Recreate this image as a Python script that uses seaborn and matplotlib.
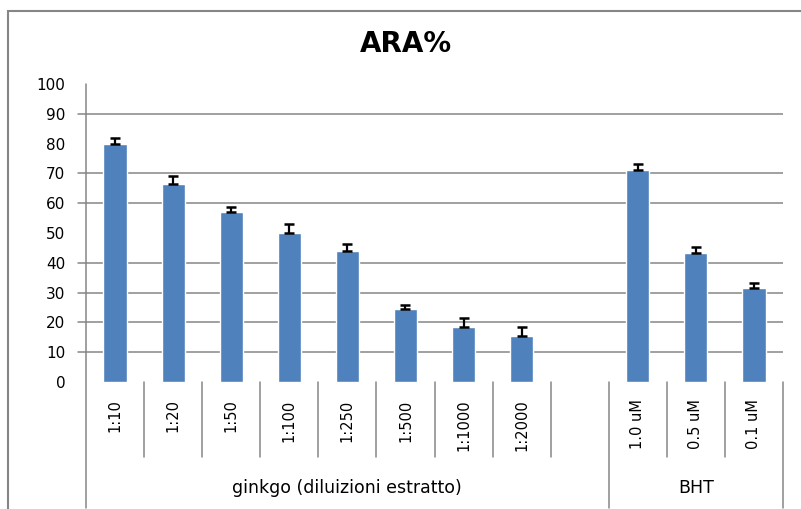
import matplotlib
matplotlib.use("Agg")
import matplotlib.pyplot as plt
import matplotlib.transforms as mtransforms
from matplotlib.patches import Rectangle
import seaborn as sns
import pandas as pd
import numpy as np

# ---- data ----
ginkgo_labels = ["1:10", "1:20", "1:50", "1:100", "1:250", "1:500", "1:1000", "1:2000"]
bht_labels = ["1.0 uM", "0.5 uM", "0.1 uM"]
ginkgo_values = [80.0, 66.4, 57.0, 50.0, 44.0, 24.5, 18.5, 15.4]
bht_values = [71.1, 43.3, 31.5]
ginkgo_errors = [1.8, 2.8, 1.8, 3.1, 2.4, 1.5, 2.9, 3.0]
bht_errors = [1.9, 2.1, 1.6]
group_names = ["ginkgo (diluizioni estratto)", "BHT"]
title = "ARA%"
y_ticks = [0, 10, 20, 30, 40, 50, 60, 70, 80, 90, 100]
grid_values = [10, 20, 30, 40, 60, 70, 90]

blank = " "
order = ginkgo_labels + [blank] + bht_labels
df = pd.DataFrame({
    "cat": ginkgo_labels + bht_labels,
    "val": ginkgo_values + bht_values,
    "err": ginkgo_errors + bht_errors,
})

sns.set_theme(style="white")
plt.rcParams["font.family"] = ["DejaVu Sans"]
plt.rcParams["text.color"] = "black"
plt.rcParams["xtick.color"] = "black"
plt.rcParams["ytick.color"] = "black"
plt.rcParams["xtick.labelcolor"] = "black"
plt.rcParams["ytick.labelcolor"] = "black"

W, H = 801, 509
fig = plt.figure(figsize=(W / 100, H / 100), dpi=100)
ax_left, ax_right, ax_top, ax_bot = 86, 783, 84, 382
ax = fig.add_axes([ax_left / W, 1 - ax_bot / H, (ax_right - ax_left) / W, (ax_bot - ax_top) / H])

bar_color = "#4F81BD"
grid_color = "#868686"

sns.barplot(data=df, x="cat", y="val", order=order, color=bar_color,
            width=0.4, errorbar=None, saturation=1, ax=ax, zorder=2)

xpos = [order.index(c) for c in df["cat"]]
ax.errorbar(xpos, df["val"], yerr=[np.zeros(len(df)), df["err"]], fmt="none",
            ecolor="black", elinewidth=1.6, capsize=3.6, capthick=1.8, zorder=5)

ax.set_xlim(-0.5, len(order) - 0.5)
ax.set_ylim(0, 100)
ax.set_yticks(y_ticks)
ax.tick_params(axis="y", which="major", length=0, pad=15, labelsize=11)
ax.grid(False)

# horizontal gridlines and their tick marks on the value axis
tick_len = 8 / (ax_right - ax_left)
for g in grid_values:
    ax.axhline(g, color=grid_color, linewidth=1.1, zorder=1)
    ax.plot([-tick_len, 0], [g, g], transform=mtransforms.blended_transform_factory(ax.transAxes, ax.transData),
            color=grid_color, lw=1.1, clip_on=False)

ax.tick_params(axis="x", length=0, pad=12.5)
ax.set_xticks(range(len(order)))
ax.set_xticklabels(order, rotation=90, fontsize=10.5, va="top", ha="center")
ax.set_xlabel("")
ax.set_ylabel("")

for s in ax.spines.values():
    s.set_visible(False)

ax_h = ax_bot - ax_top
deep = -(508 - ax_bot) / ax_h
shallow = -(457 - ax_bot) / ax_h
trans = mtransforms.blended_transform_factory(ax.transData, ax.transAxes)
# vertical axis line extended downward
ax.plot([-0.5, -0.5], [1, deep], transform=trans, color=grid_color, lw=1.1, clip_on=False, zorder=3)
# category separators
n = len(order)
group_bounds = [-0.5, len(ginkgo_labels) + 0.5, n - 0.5]
for i in range(1, n):
    b = i - 0.5
    if b in group_bounds:
        continue
    ax.plot([b, b], [0, shallow], transform=trans, color=grid_color, lw=1.1, clip_on=False)
for b in group_bounds[1:]:
    ax.plot([b, b], [0, deep], transform=trans, color=grid_color, lw=1.1, clip_on=False)

# group labels
ylab = -(488 - ax_bot) / ax_h
ax.text((group_bounds[0] + group_bounds[1]) / 2, ylab, group_names[0], transform=trans,
        ha="center", va="center", fontsize=12.5)
ax.text((group_bounds[1] + group_bounds[2]) / 2, ylab, group_names[1], transform=trans,
        ha="center", va="center", fontsize=12.5)

# title
fig.text(406 / W, 1 - 44 / H, title, ha="center", va="center", fontsize=20, fontweight="bold")

# outer chart border
fig.patches.append(Rectangle((8 / W, -0.1), 1.2, 1 - 11 / H + 0.1, transform=fig.transFigure,
                             fill=False, edgecolor=grid_color, linewidth=1.5))

fig.savefig("out.png", dpi=100)
